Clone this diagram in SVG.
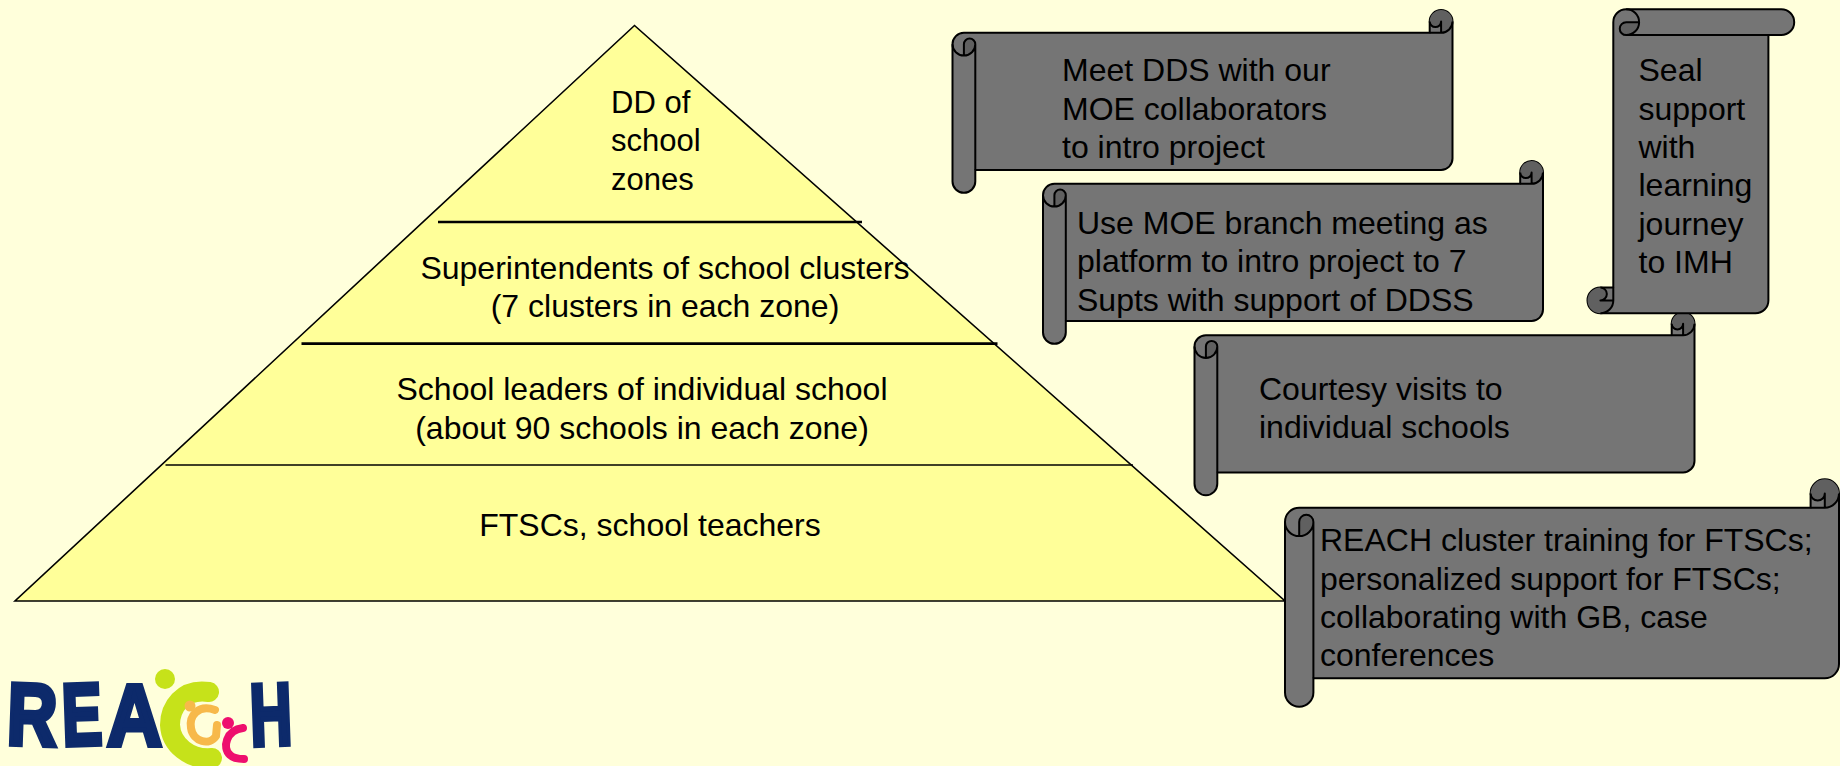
<svg xmlns="http://www.w3.org/2000/svg" xmlns:xlink="http://www.w3.org/1999/xlink" width="1840" height="766" viewBox="0 0 1840 766">
<style>
text{font-family:"Liberation Sans",Arial,sans-serif;font-size:32px;fill:#000}
.c{text-anchor:middle}
.s{font-size:31px}
.body{fill:#757575;stroke:#000;stroke-width:2;stroke-linejoin:round}
.dark{fill:#606060;stroke:none}
.ln{fill:none;stroke:#000;stroke-width:2;stroke-linejoin:round}
text.logo{font-family:"Liberation Sans",Arial,sans-serif;font-weight:bold;font-size:88px;fill:#0d2a6b;stroke:#0d2a6b;stroke-width:5}
</style>
<defs>
<g id="scrollA">
<path class="body" d="M0,34.2A11.4,11.4 0 0 1 11.4,22.8L477.2,22.8L477.2,11.4A11.4,11.4 0 0 1 500,11.4L500,148.6A11.4,11.4 0 0 1 488.6,160L22.8,160L22.8,171.4A11.4,11.4 0 0 1 0,171.4Z"/>
<path class="dark" d="M11.4,45.6A11.4,11.4 0 0 0 22.8,34.2A5.7,5.7 0 0 0 11.4,34.2Z"/>
<path class="dark" d="M488.6,22.8A11.4,11.4 0 1 0 477.2,11.4A5.7,5.7 0 0 0 488.6,11.4Z"/>
<path class="ln" d="M488.6,22.8A11.4,11.4 0 0 0 500,11.4M477.2,22.8L488.6,22.8L488.6,11.4A5.7,5.7 0 0 1 477.2,11.4M11.4,45.6L11.4,34.2A5.7,5.7 0 0 1 22.8,34.2A11.4,11.4 0 0 1 0,34.2M22.8,34.2L22.8,160"/>
</g>
</defs>
<rect width="1840" height="766" fill="#ffffdb"/>
<g id="pyramid">
<polygon points="634.5,25.5 15,601 1285,601" fill="#ffff99" stroke="#000" stroke-width="1.6"/>
</g>
<g id="connectors">
<line x1="438" y1="222" x2="862" y2="222" stroke="#000" stroke-width="2.7"/>
<line x1="301.5" y1="343.6" x2="997.5" y2="343.6" stroke="#000" stroke-width="2.7"/>
<line x1="165.5" y1="465" x2="1133" y2="465" stroke="#000" stroke-width="1.7"/>
</g>
<g id="level-dd"><text class="s" x="611" y="113">DD of</text><text class="s" x="611" y="151.4">school</text><text class="s" x="611" y="189.8">zones</text></g>
<g id="level-supt"><text class="c" x="665" y="278.6">Superintendents of school clusters</text><text class="c" x="665" y="317">(7 clusters in each zone)</text></g>
<g id="level-leaders"><text class="c" x="642" y="400.3">School leaders of individual school</text><text class="c" x="642" y="438.7">(about 90 schools in each zone)</text></g>
<g id="level-ftsc"><text class="c" x="650" y="536">FTSCs, school teachers</text></g>
<g id="scroll-dds"><use href="#scrollA" xlink:href="#scrollA" x="952.5" y="10"/><text x="1062" y="81.4">Meet DDS with our</text><text x="1062" y="119.8">MOE collaborators</text><text x="1062" y="158.2">to intro project</text></g>
<g id="scroll-branch"><use href="#scrollA" xlink:href="#scrollA" x="1043" y="161"/><text x="1077" y="234">Use MOE branch meeting as</text><text x="1077" y="272.4">platform to intro project to 7</text><text x="1077" y="310.8">Supts with support of DDSS</text></g>
<g id="scroll-courtesy"><use href="#scrollA" xlink:href="#scrollA" x="1194.5" y="312.4"/><text x="1259" y="400">Courtesy visits to</text><text x="1259" y="438.4">individual schools</text></g>
<g id="scroll-reach" transform="translate(1285,479.3)">
<path class="body" d="M0,42.6A14.2,14.2 0 0 1 14.2,28.4L525.6,28.4L525.6,14.2A14.2,14.2 0 0 1 554,14.2L554,184.8A14.2,14.2 0 0 1 539.8,199L28.4,199L28.4,213.2A14.2,14.2 0 0 1 0,213.2Z"/>
<path class="dark" d="M14.2,56.8A14.2,14.2 0 0 0 28.4,42.6A7.1,7.1 0 0 0 14.2,42.6Z"/>
<path class="dark" d="M539.8,28.4A14.2,14.2 0 1 0 525.6,14.2A7.1,7.1 0 0 0 539.8,14.2Z"/>
<path class="ln" d="M539.8,28.4A14.2,14.2 0 0 0 554,14.2M525.6,28.4L539.8,28.4L539.8,14.2A7.1,7.1 0 0 1 525.6,14.2M14.2,56.8L14.2,42.6A7.1,7.1 0 0 1 28.4,42.6A14.2,14.2 0 0 1 0,42.6M28.4,42.6L28.4,199"/>
<text x="35" y="72">REACH cluster training for FTSCs;</text><text x="35" y="110.4">personalized support for FTSCs;</text><text x="35" y="148.8">collaborating with GB, case</text><text x="35" y="187.2">conferences</text>
</g>
<g id="scroll-seal" transform="translate(1587.5,9.3)">
<path class="body" d="M25.8,12.9A12.9,12.9 0 0 1 38.7,0L193.8,0A12.9,12.9 0 0 1 193.8,25.8L180.9,25.8L180.9,291.1A12.9,12.9 0 0 1 168,304L12.9,304A12.9,12.9 0 0 1 12.9,278.2L25.8,278.2Z"/>
<path class="dark" d="M38.7,12.9L51.6,12.9A12.9,12.9 0 0 1 38.7,25.8A6.45,6.45 0 0 1 38.7,12.9Z"/>
<path class="dark" d="M12.9,278.2A6.45,6.45 0 0 1 12.9,291.1L25.8,291.1A12.9,12.9 0 0 1 12.9,304A12.9,12.9 0 0 1 12.9,278.2Z"/>
<path class="ln" d="M38.7,0A12.9,12.9 0 0 1 38.7,25.8A6.45,6.45 0 0 1 38.7,12.9L51.6,12.9M38.7,25.8L180.9,25.8M12.9,278.2A6.45,6.45 0 0 1 12.9,291.1L25.8,291.1M12.9,304A12.9,12.9 0 0 0 25.8,291.1L25.8,278.2"/>
<text x="51" y="72">Seal</text><text x="51" y="110.4">support</text><text x="51" y="148.8">with</text><text x="51" y="187.2">learning</text><text x="51" y="225.6">journey</text><text x="51" y="264">to IMH</text>
</g>
<g id="logo">
<text class="logo" x="7" y="745" textLength="50" lengthAdjust="spacingAndGlyphs" transform="rotate(2 30 720)">R</text>
<text class="logo" x="62" y="745" textLength="40" lengthAdjust="spacingAndGlyphs" transform="rotate(-2 80 720)">E</text>
<text class="logo" x="107" y="745" textLength="55" lengthAdjust="spacingAndGlyphs">A</text>
<text class="logo" x="250" y="745" textLength="42" lengthAdjust="spacingAndGlyphs" transform="rotate(-2 270 720)">H</text>
<circle cx="165" cy="679" r="10" fill="#c6e21a"/>
<path d="M209,692C182,688 170,708 170,725C171,745 190,760 212,758" fill="none" stroke="#c6e21a" stroke-width="20" stroke-linecap="round"/>
<circle cx="190" cy="706" r="5.5" fill="#f7b94a"/>
<path d="M215,710C198,704 189,716 191,728C193,742 210,746 216,736L217,725" fill="none" stroke="#f7b94a" stroke-width="8" stroke-linecap="round"/>
<circle cx="228" cy="723" r="6" fill="#ee0f6e"/>
<path d="M243,728C226,730 222,748 230,755C234,759 240,759 244,759" fill="none" stroke="#ee0f6e" stroke-width="8" stroke-linecap="round"/>
</g>
</svg>
